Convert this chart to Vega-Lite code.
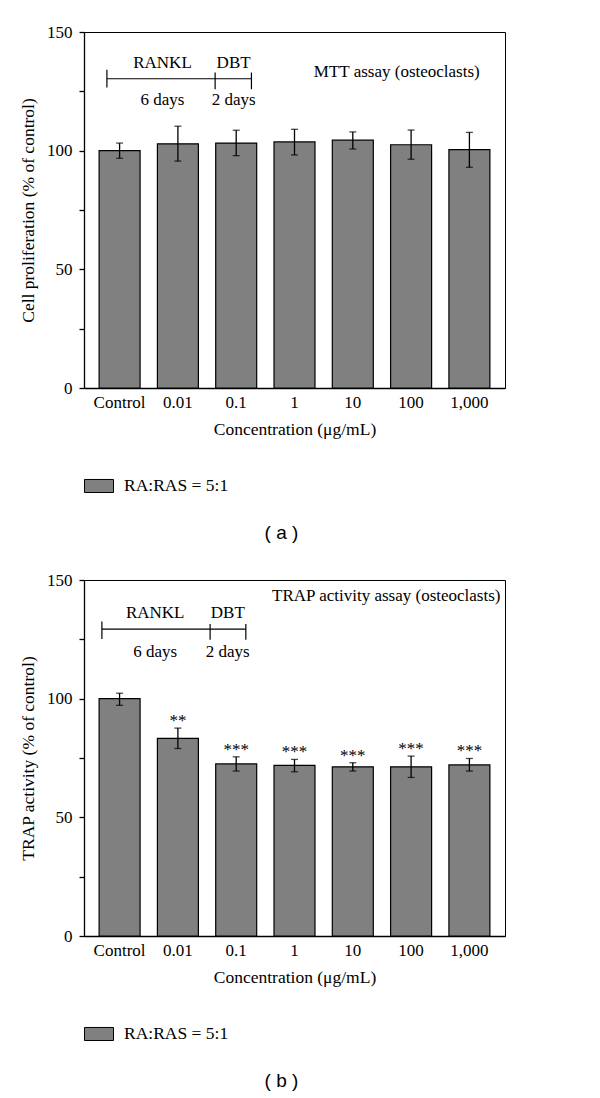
{
  "$schema": "https://vega.github.io/schema/vega-lite/v6.json",
  "background": "white",
  "padding": {"left": 19, "top": 22, "right": 5, "bottom": 5},
  "spacing": 26,
  "datasets": {
    "bars_a": [
      {"conc": "Control", "value": 100, "lo": 96.8, "hi": 103.2, "series": "RA:RAS = 5:1"},
      {"conc": "0.01", "value": 102.9, "lo": 95.6, "hi": 110.3, "series": "RA:RAS = 5:1"},
      {"conc": "0.1", "value": 103.2, "lo": 97.9, "hi": 108.6, "series": "RA:RAS = 5:1"},
      {"conc": "1", "value": 103.7, "lo": 98.2, "hi": 109, "series": "RA:RAS = 5:1"},
      {"conc": "10", "value": 104.4, "lo": 100.7, "hi": 107.9, "series": "RA:RAS = 5:1"},
      {"conc": "100", "value": 102.5, "lo": 96.4, "hi": 108.7, "series": "RA:RAS = 5:1"},
      {"conc": "1,000", "value": 100.4, "lo": 93, "hi": 107.7, "series": "RA:RAS = 5:1"}
    ],
    "bars_b": [
      {"conc": "Control", "value": 100, "lo": 97.2, "hi": 102.3, "sig": "", "series": "RA:RAS = 5:1"},
      {"conc": "0.01", "value": 83.3, "lo": 79, "hi": 87.6, "sig": "**", "series": "RA:RAS = 5:1"},
      {"conc": "0.1", "value": 72.5, "lo": 69.5, "hi": 75.5, "sig": "***", "series": "RA:RAS = 5:1"},
      {"conc": "1", "value": 71.9, "lo": 69.2, "hi": 74.4, "sig": "***", "series": "RA:RAS = 5:1"},
      {"conc": "10", "value": 71.3, "lo": 69.5, "hi": 73, "sig": "***", "series": "RA:RAS = 5:1"},
      {"conc": "100", "value": 71.3, "lo": 66.8, "hi": 75.8, "sig": "***", "series": "RA:RAS = 5:1"},
      {"conc": "1,000", "value": 72.1, "lo": 69.5, "hi": 74.8, "sig": "***", "series": "RA:RAS = 5:1"}
    ],
    "text_a": [
      {"t": 0.74, "y": 136.8, "label": "RANKL"},
      {"t": 1.96, "y": 136.8, "label": "DBT"},
      {"t": 0.74, "y": 121.3, "label": "6 days"},
      {"t": 1.96, "y": 121.3, "label": "2 days"},
      {"t": 4.76, "y": 133, "label": "MTT assay (osteoclasts)"}
    ],
    "seg_a": [
      {"t1": -0.214, "t2": 2.266, "y1": 130.3, "y2": 130.3},
      {"t1": -0.214, "t2": -0.214, "y1": 126.6, "y2": 134.1},
      {"t1": 1.643, "t2": 1.643, "y1": 125.9, "y2": 132.9},
      {"t1": 2.266, "t2": 2.266, "y1": 125.9, "y2": 132.9}
    ],
    "text_b": [
      {"t": 0.614, "y": 136, "label": "RANKL"},
      {"t": 1.86, "y": 136, "label": "DBT"},
      {"t": 0.614, "y": 119.7, "label": "6 days"},
      {"t": 1.86, "y": 119.7, "label": "2 days"},
      {"t": 4.58, "y": 143.3, "label": "TRAP activity assay (osteoclasts)"}
    ],
    "seg_b": [
      {"t1": -0.3, "t2": 2.17, "y1": 129.3, "y2": 129.3},
      {"t1": -0.3, "t2": -0.3, "y1": 125.1, "y2": 132.5},
      {"t1": 1.557, "t2": 1.557, "y1": 124.8, "y2": 131.5},
      {"t1": 2.17, "t2": 2.17, "y1": 124.8, "y2": 131.5}
    ]
  },
  "config": {
    "view": {"stroke": "black", "strokeWidth": 1},
    "font": "Liberation Serif",
    "axis": {
      "labelFont": "Liberation Serif", "labelFontSize": 17, "labelColor": "black",
      "titleFont": "Liberation Serif", "titleFontSize": 17.5, "titleFontWeight": "normal", "titleColor": "black",
      "domainColor": "black", "domainWidth": 1.3, "tickColor": "black", "tickWidth": 1.3, "grid": false
    },
    "legend": {
      "labelFont": "Liberation Serif", "labelFontSize": 17.5, "labelColor": "black",
      "symbolType": "M-1,-0.45H1V0.45H-1Z", "symbolSize": 841, "symbolStrokeColor": "black",
      "symbolStrokeWidth": 1, "labelOffset": 10
    },
    "title": {"font": "Liberation Sans", "fontSize": 19, "fontWeight": "normal", "color": "black"}
  },
  "vconcat": [
    {
      "width": 421, "height": 356,
      "title": {"text": "( a )", "orient": "bottom", "anchor": "middle", "frame": "group", "dx": -13, "offset": 29},
      "layer": [
        {
          "data": {"name": "bars_a"},
          "encoding": {
            "x": {"field": "conc", "type": "nominal", "sort": null,
                  "scale": {"type": "band", "paddingInner": 0.297, "paddingOuter": 0.259},
                  "axis": {"title": "Concentration (μg/mL)", "labelAngle": 0, "ticks": false, "labelPadding": 6, "titlePadding": 10}},
            "y": {"type": "quantitative"}
          },
          "layer": [
            {
              "mark": {"type": "bar", "stroke": "black", "strokeWidth": 1.2},
              "encoding": {
                "y": {"field": "value", "type": "quantitative", "scale": {"domain": [0, 150], "nice": false},
                      "axis": {"title": "Cell proliferation (% of control)", "values": [0, 25, 50, 75, 100, 125, 150],
                               "labelExpr": "datum.value % 50 === 0 ? datum.label : ''", "tickSize": 5, "labelPadding": 7, "titlePadding": 9}},
                "fill": {"field": "series", "type": "nominal", "scale": {"range": ["#808080"]},
                         "legend": {"title": null, "orient": "none", "legendX": 0, "legendY": 439}}
              }
            },
            {
              "mark": {"type": "rule", "color": "black", "strokeWidth": 1.3},
              "encoding": {"y": {"field": "lo", "type": "quantitative"}, "y2": {"field": "hi"}}
            },
            {
              "mark": {"type": "tick", "color": "black", "size": 7, "thickness": 1.3},
              "encoding": {"y": {"field": "lo", "type": "quantitative"}}
            },
            {
              "mark": {"type": "tick", "color": "black", "size": 7, "thickness": 1.3},
              "encoding": {"y": {"field": "hi", "type": "quantitative"}}
            }
          ]
        },
        {
          "layer": [
            {
              "data": {"name": "seg_a"},
              "mark": {"type": "rule", "color": "black", "strokeWidth": 1.2},
              "encoding": {
                "x": {"field": "t1", "type": "quantitative", "scale": {"domain": [-0.607, 6.617], "nice": false, "zero": false}, "axis": null},
                "x2": {"field": "t2"},
                "y": {"field": "y1", "type": "quantitative"},
                "y2": {"field": "y2"}
              }
            },
            {
              "data": {"name": "text_a"},
              "mark": {"type": "text", "fontSize": 17, "font": "Liberation Serif", "color": "black", "baseline": "middle"},
              "encoding": {
                "x": {"field": "t", "type": "quantitative", "scale": {"domain": [-0.607, 6.617], "nice": false, "zero": false}, "axis": null},
                "y": {"field": "y", "type": "quantitative"},
                "text": {"field": "label"}
              }
            }
          ]
        }
      ],
      "resolve": {"scale": {"x": "independent"}, "axis": {"x": "independent"}}
    },
    {
      "width": 421, "height": 356,
      "title": {"text": "( b )", "orient": "bottom", "anchor": "middle", "frame": "group", "dx": -13, "offset": 29},
      "layer": [
        {
          "data": {"name": "bars_b"},
          "encoding": {
            "x": {"field": "conc", "type": "nominal", "sort": null,
                  "scale": {"type": "band", "paddingInner": 0.297, "paddingOuter": 0.259},
                  "axis": {"title": "Concentration (μg/mL)", "labelAngle": 0, "ticks": false, "labelPadding": 6, "titlePadding": 10}},
            "y": {"type": "quantitative"}
          },
          "layer": [
            {
              "mark": {"type": "bar", "stroke": "black", "strokeWidth": 1.2},
              "encoding": {
                "y": {"field": "value", "type": "quantitative", "scale": {"domain": [0, 150], "nice": false},
                      "axis": {"title": "TRAP activity (% of control)", "values": [0, 25, 50, 75, 100, 125, 150],
                               "labelExpr": "datum.value % 50 === 0 ? datum.label : ''", "tickSize": 5, "labelPadding": 7, "titlePadding": 9}},
                "fill": {"field": "series", "type": "nominal", "scale": {"range": ["#808080"]},
                         "legend": {"title": null, "orient": "none", "legendX": 0, "legendY": 439}}
              }
            },
            {
              "mark": {"type": "rule", "color": "black", "strokeWidth": 1.3},
              "encoding": {"y": {"field": "lo", "type": "quantitative"}, "y2": {"field": "hi"}}
            },
            {
              "mark": {"type": "tick", "color": "black", "size": 7, "thickness": 1.3},
              "encoding": {"y": {"field": "lo", "type": "quantitative"}}
            },
            {
              "mark": {"type": "tick", "color": "black", "size": 7, "thickness": 1.3},
              "encoding": {"y": {"field": "hi", "type": "quantitative"}}
            },
            {
              "mark": {"type": "text", "fontSize": 17, "font": "Liberation Serif", "color": "black", "baseline": "alphabetic", "dy": -2},
              "encoding": {"y": {"field": "hi", "type": "quantitative"}, "text": {"field": "sig"}}
            }
          ]
        },
        {
          "layer": [
            {
              "data": {"name": "seg_b"},
              "mark": {"type": "rule", "color": "black", "strokeWidth": 1.2},
              "encoding": {
                "x": {"field": "t1", "type": "quantitative", "scale": {"domain": [-0.607, 6.617], "nice": false, "zero": false}, "axis": null},
                "x2": {"field": "t2"},
                "y": {"field": "y1", "type": "quantitative"},
                "y2": {"field": "y2"}
              }
            },
            {
              "data": {"name": "text_b"},
              "mark": {"type": "text", "fontSize": 17, "font": "Liberation Serif", "color": "black", "baseline": "middle"},
              "encoding": {
                "x": {"field": "t", "type": "quantitative", "scale": {"domain": [-0.607, 6.617], "nice": false, "zero": false}, "axis": null},
                "y": {"field": "y", "type": "quantitative"},
                "text": {"field": "label"}
              }
            }
          ]
        }
      ],
      "resolve": {"scale": {"x": "independent"}, "axis": {"x": "independent"}}
    }
  ],
  "resolve": {"scale": {"fill": "independent"}, "legend": {"fill": "independent"}}
}
